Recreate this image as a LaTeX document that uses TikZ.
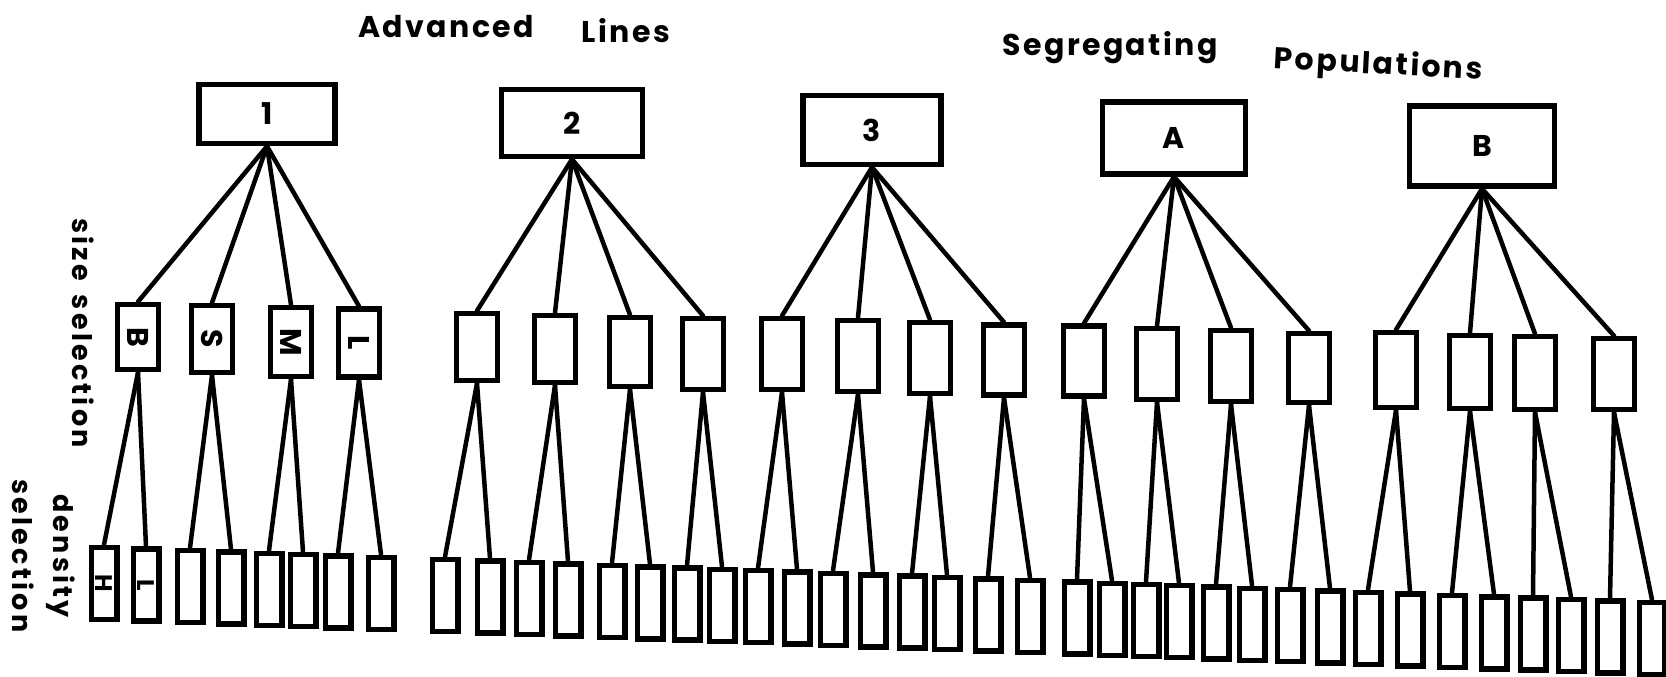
\documentclass[tikz,border=0pt]{standalone}
\usepackage{fontspec}
\setmainfont{Poppins}
\newfontfamily\spacedfont{Poppins}[LetterSpace=8]
\newfontfamily\sidespaced{Poppins}[LetterSpace=12]
\newcommand\titlefont{\spacedfont\bfseries\fontsize{30}{30}\selectfont}
\newcommand\labfont{\bfseries\fontsize{30}{30}\selectfont}
\newcommand\smallfont{\bfseries\fontsize{24}{24}\selectfont}
\newcommand\sidefont{\sidespaced\bfseries\fontsize{27}{41}\selectfont}
\begin{document}
\begin{tikzpicture}[x=1pt,y=-1pt,
  box/.style={draw=black, line width=5.5pt, inner sep=0pt, rectangle, fill=white},
  topbox/.style={box, font=\labfont},
  midbox/.style={box, minimum width=41pt, font=\labfont},
  botbox/.style={box, minimum width=25.5pt, minimum height=72pt},
  link/.style={line width=4.5pt, line cap=round},
  title/.style={font=\titlefont, anchor=base},
  side/.style={font=\sidefont, rotate=-90, align=center}]
\useasboundingbox (0,0) rectangle (1666,677);
\fill[white] (0,0) rectangle (1666,677);

% titles
\node[title] (adv) at (446,38) {Advanced};
\node[title] (lines) at (626,43) {Lines};
\node[title] (seg) at (1110,56) {Segregating};
\node[title, rotate=-3] (pop) at (1378,74) {Populations};

% side labels
\node[side, anchor=base] (size) at (72,333) {size\hspace{14pt}selection};
\node[side] (dens) at (44,556) {density\\selection};

% top boxes
\node[topbox, minimum width=136pt, minimum height=59pt] (t1) at (267,114) {1};
\node[topbox, minimum width=141pt, minimum height=67pt] (t2) at (572,123) {2};
\node[topbox, minimum width=138pt, minimum height=69pt] (t3) at (872,130) {3};
\node[topbox, minimum width=143pt, minimum height=72pt] (t4) at (1174,138) {A};
\node[topbox, minimum width=145pt, minimum height=80pt] (t5) at (1482,146) {B};

% middle boxes
\node[midbox, minimum height=65pt] (m1) at (138,337) {\rotatebox{-90}{B}};
\node[midbox, minimum height=67pt] (m2) at (212,339) {\rotatebox{-90}{S}};
\node[midbox, minimum height=69pt] (m3) at (291,342) {\rotatebox{-90}{M}};
\node[midbox, minimum height=68pt] (m4) at (359,343) {\rotatebox{-90}{L}};
\foreach \x/\y/\h [count=\i from 5] in {
  477/347/67, 555/349/67, 630/352/69, 703/354/71,
  782/354/71, 858/356/71, 930/358/71, 1004/360/70,
  1084/361/70, 1157/364/71, 1231/366/71, 1309/368/69,
  1396/370/75, 1470/372/73, 1535/373/73, 1614/374/71}
  \node[midbox, minimum height=\h pt] (m\i) at (\x,\y) {};

% bottom boxes
\foreach \x [count=\i] in {
  104,146,190,231,269,303,338,381,
  445,490,529,568,612,650,687,722,
  758,797,833,873,912,947,988,1030,
  1077,1112,1146,1179,1216,1252,1290,1330,
  1368,1410,1452,1494,1533,1571,1610,1652}
{
  \pgfmathsetmacro\yy{583.5+(\x-104)*0.0355}
  \node[botbox] (b\i) at (\x,\yy) {};
}
\node[font=\smallfont, rotate=-90] (lh) at (b1) {H};
\node[font=\smallfont, rotate=-90] (ll) at (b2) {L};

% connectors top -> middle
\foreach \g in {1,...,5}
  \foreach \k in {1,...,4}
  {
    \pgfmathtruncatemacro\j{4*(\g-1)+\k}
    \draw[link] (t\g.south) -- (m\j.north);
  }
% connectors middle -> bottom
\foreach \j in {1,...,20}
{
  \pgfmathtruncatemacro\a{2*\j-1}
  \pgfmathtruncatemacro\b{2*\j}
  \draw[link] (m\j.south) -- (b\a.north);
  \draw[link] (m\j.south) -- (b\b.north);
}
\end{tikzpicture}
\end{document}
